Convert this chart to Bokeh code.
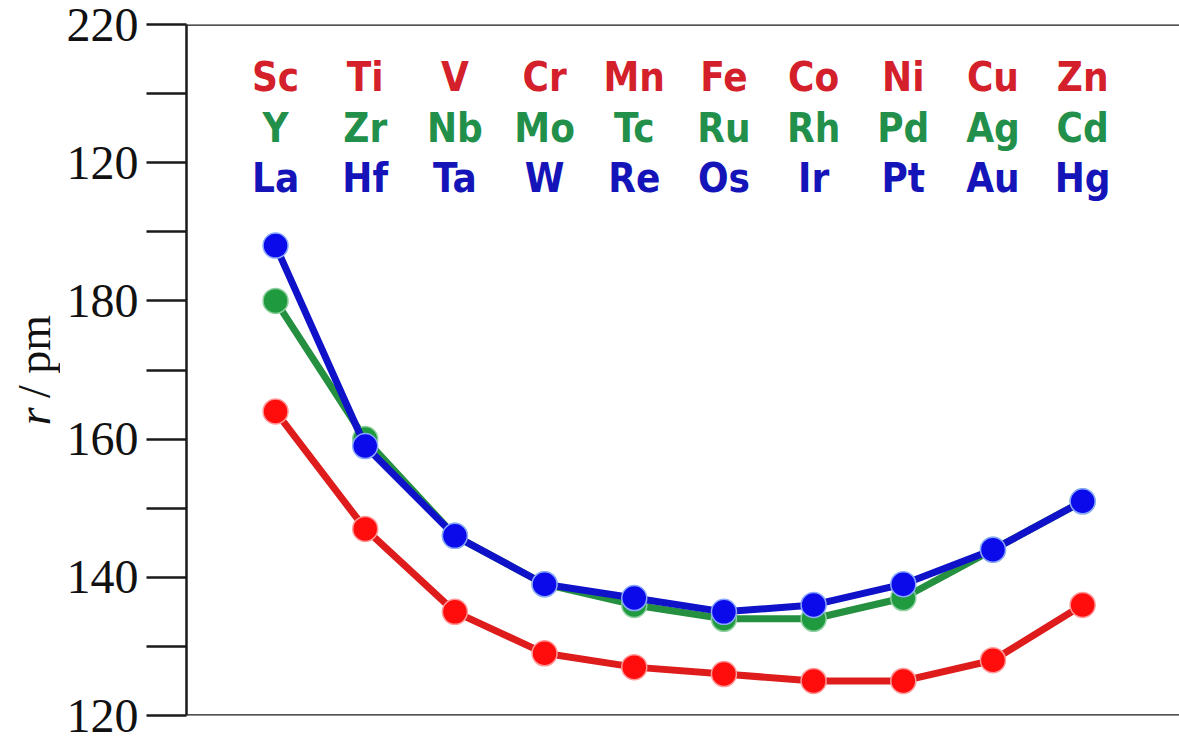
from bokeh.plotting import figure
from bokeh.layouts import row
from bokeh.models import FixedTicker, Span, Label, ColumnDataSource, Range1d
from bokeh.core.properties import value
from bokeh.embed import file_html
from bokeh.resources import INLINE

# ---- data ----
period3d = ["Sc", "Ti", "V", "Cr", "Mn", "Fe", "Co", "Ni", "Cu", "Zn"]
period4d = ["Y", "Zr", "Nb", "Mo", "Tc", "Ru", "Rh", "Pd", "Ag", "Cd"]
period5d = ["La", "Hf", "Ta", "W", "Re", "Os", "Ir", "Pt", "Au", "Hg"]
r3d = [164, 147, 135, 129, 127, 126, 125, 125, 128, 136]
r4d = [180, 160, 146, 139, 136, 134, 134, 137, 144, 151]
r5d = [188, 159, 146, 139, 137, 135, 136, 139, 144, 151]
major_ticks = [120, 140, 160, 180, 200, 220]
major_labels = ["120", "140", "160", "180", "120", "220"]
minor_ticks = [130, 150, 170, 190, 210]

xs = list(range(len(period3d)))

H = 738
LW = 60            # width of the strip holding the y-axis title
FL, FB = 186, 715  # frame left / bottom on the page

# ---- strip with the axis title "r / pm" ----
lab = figure(width=LW, height=H, output_backend="svg", toolbar_location=None,
             x_range=Range1d(0, LW), y_range=Range1d(0, H),
             min_border_left=0, min_border_right=0, min_border_top=0,
             min_border_bottom=0)
lab.axis.visible = False
lab.grid.visible = False
lab.outline_line_color = None
lab.add_layout(Label(x=34, y=H - 428, text="r", angle=1.5708,
                     text_font="Liberation Serif", text_font_style="italic",
                     text_font_size="46px", text_baseline="middle",
                     text_align="left", text_color="#111111"))
lab.add_layout(Label(x=34, y=H - 399, text="/ pm", angle=1.5708,
                     text_font="Liberation Serif", text_font_size="46px",
                     text_baseline="middle", text_align="left",
                     text_color="#111111"))

# ---- main chart ----
p = figure(width=1179 - LW, height=H, output_backend="svg", toolbar_location=None,
           x_range=Range1d(-0.993, 10.08), y_range=Range1d(120, 220),
           min_border_left=FL - LW, min_border_right=0, min_border_top=24,
           min_border_bottom=H - FB)
p.outline_line_color = None
p.xaxis.visible = False
p.xgrid.visible = False
p.ygrid.visible = False

ax = p.yaxis[0]
ax.ticker = FixedTicker(ticks=major_ticks, minor_ticks=minor_ticks)
ax.major_label_overrides = {t: l for t, l in zip(major_ticks, major_labels)}
ax.major_tick_out = 40
ax.major_tick_in = 0
ax.minor_tick_out = 40
ax.minor_tick_in = 0
ax.axis_line_width = 2.5
ax.major_tick_line_width = 2.5
ax.minor_tick_line_width = 2.5
ax.axis_line_color = "#1a1a1a"
ax.major_tick_line_color = "#1a1a1a"
ax.minor_tick_line_color = "#1a1a1a"
ax.major_label_text_font = "Liberation Serif"
ax.major_label_text_font_size = "48px"
ax.major_label_text_color = "#111111"
ax.major_label_standoff = 8
ax.axis_label = None

for yv in (220, 120):
    p.add_layout(Span(location=yv, dimension="width", line_color="#1a1a1a",
                      line_width=2.5))

def ydata(pix):
    return 120 + (715 - pix) / 6.91

series = [
    (r3d, "#de1c1c", "#ff0d0d", "#ff9a9a"),
    (r4d, "#25903f", "#1f9a3e", "#8fd0a0"),
    (r5d, "#0f12c8", "#0a0aea", "#8aa8ff"),
]
for vals, lc, fc, ec in series:
    src = ColumnDataSource(dict(x=xs, y=vals))
    p.line("x", "y", source=src, line_color=lc, line_width=7)
    p.scatter("x", "y", source=src, size=25, fill_color=fc, line_color=ec,
              line_width=1.5)

label_rows = [
    (period3d, "#d4202a", ydata(76)),
    (period4d, "#22904a", ydata(127)),
    (period5d, "#1414b8", ydata(177)),
]
for names, col, yrow in label_rows:
    src = ColumnDataSource(dict(x=xs, y=[yrow] * len(xs), t=names))
    p.text("x", "y", text="t", source=src,
           text_font=value("'DejaVu Sans Condensed', 'Liberation Sans'"),
           text_font_style="bold", text_font_size="40px", text_color=col,
           text_align="center", text_baseline="middle")

layout = row(lab, p, spacing=0)
open("out.html", "w").write(file_html(layout, INLINE))
